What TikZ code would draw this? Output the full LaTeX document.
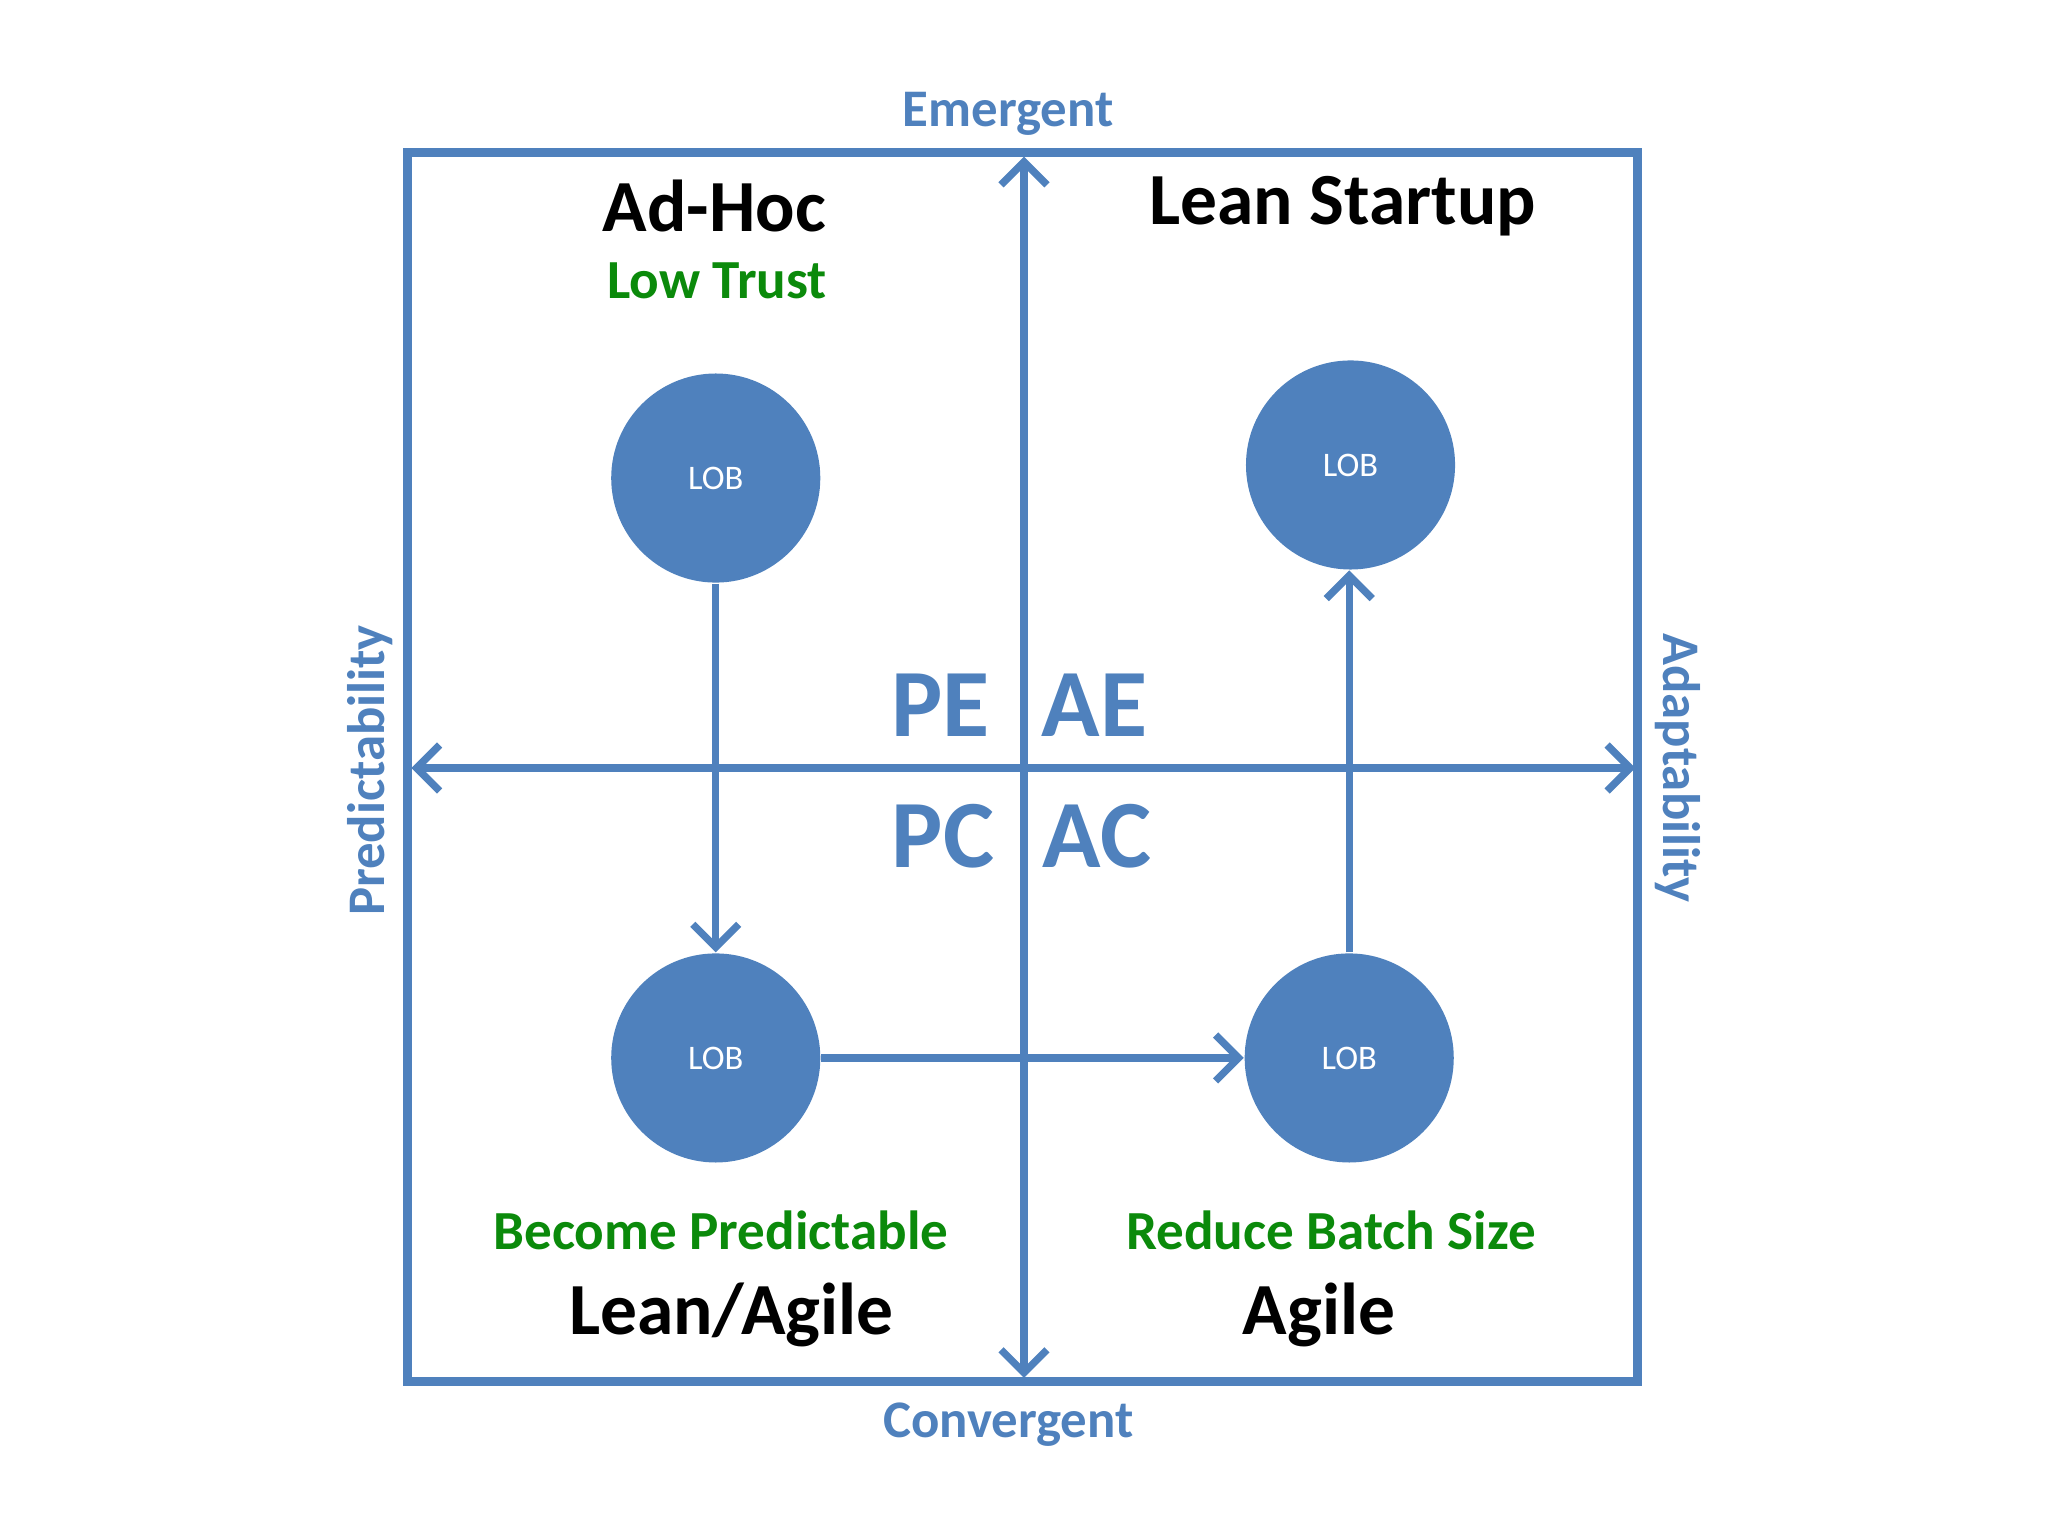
\documentclass[tikz,border=0pt]{standalone}
\usepackage{fontspec}
\setmainfont{Carlito}
\usetikzlibrary{arrows.meta}
\definecolor{ab}{HTML}{4F81BD}
\definecolor{gr}{HTML}{0B8A0B}
\tikzset{
 ax/.style={draw=ab,line width=1.6pt,{Straight Barb[length=5pt,width=10pt]}-{Straight Barb[length=5pt,width=10pt]}},
 fl/.style={draw=ab,line width=1.6pt,-{Straight Barb[length=5pt,width=10pt]}},
 lob/.style={circle,fill=ab,minimum size=1.6cm,inner sep=0pt,text=white,font=\fontsize{7.5}{9}\selectfont},
 lab/.style={text=ab,font=\bfseries\fontsize{11.5}{13}\selectfont},
 ttl/.style={font=\bfseries\fontsize{16}{19}\selectfont},
 gt/.style={text=gr,font=\bfseries\fontsize{12}{14}\selectfont},
 big/.style={text=ab,font=\bfseries\fontsize{21}{24}\selectfont}
}
\begin{document}
\begin{tikzpicture}[x=0.01cm,y=-0.01cm]
\useasboundingbox (0,0) rectangle (1568,1176);
\draw[ab,line width=2pt] (312,117) rectangle (1254,1058);
\coordinate (vt) at (784,120); \coordinate (vb) at (784,1055);
\coordinate (hl) at (315,588); \coordinate (hr) at (1252,588);
\draw[ax] (vt) -- (vb);
\draw[ax] (hl) -- (hr);
\node[lob] (c1) at (548,366) {LOB};
\node[lob] (c2) at (1034,356) {LOB};
\node[lob] (c3) at (548,810) {LOB};
\node[lob] (c4) at (1033,810) {LOB};
\draw[fl] (c1) -- (c3);
\draw[fl] (c3) -- (c4);
\draw[fl] (c4) -- (c4|-c2.south);
\node[lab] (em) at (772,87) {Emergent};
\node[lab] (cv) at (772,1091) {Convergent};
\node[lab,rotate=90] (pr) at (283,590) {Predictability};
\node[lab,rotate=-90] (ad) at (1285,588) {Adaptability};
\node[ttl] (t1) at (547,158) {Ad-Hoc};
\node[gt] (g1) at (549,215) {Low Trust};
\node[ttl] (t2) at (1028,158) {Lean Startup};
\node[gt] (g3) at (552,942) {Become Predictable};
\node[ttl] (t3) at (560,1007) {Lean/Agile};
\node[gt] (g4) at (1019,942) {Reduce Batch Size};
\node[ttl] (t4) at (1010,1007) {Agile};
\node[big] (pe) at (720,540) {PE};
\node[big] (ae) at (838,540) {AE};
\node[big] (pc) at (722,640) {PC};
\node[big] (ac) at (840,640) {AC};
\end{tikzpicture}
\end{document}
